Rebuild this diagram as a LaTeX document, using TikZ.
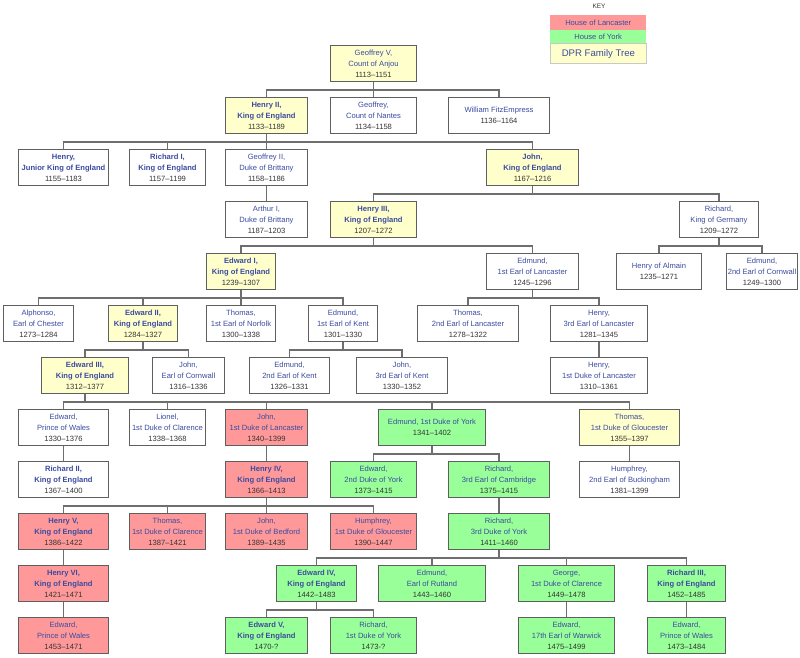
\documentclass[tikz,border=0pt]{standalone}
\usepackage{fontspec}
\setmainfont{Liberation Sans}
\definecolor{yel}{HTML}{FFFFCC}
\definecolor{lanc}{HTML}{FF9999}
\definecolor{york}{HTML}{99FF99}
\definecolor{nameblue}{HTML}{3B4BA0}
\definecolor{dategray}{HTML}{333333}
\definecolor{boxline}{HTML}{5F5F5F}
\definecolor{connline}{HTML}{6E6E6E}
\definecolor{keyline}{HTML}{C8C8C8}
\newcommand{\nm}[1]{\textcolor{nameblue}{#1}}
\newcommand{\bnm}[1]{\textcolor{nameblue}{\textbf{#1}}}
\newcommand{\dt}[1]{\textcolor{dategray}{#1}}
\tikzset{
  fam/.style={draw=boxline, line width=1pt, rectangle, anchor=north west,
    minimum height=36pt, inner sep=0pt, align=center,
    font=\fontsize{7.6}{11}\selectfont, fill=white},
  yb/.style={fill=yel}, lb/.style={fill=lanc}, gb/.style={fill=york},
  wd/.style={minimum width=#1 pt},
  conn/.style={draw=connline, line width=1.4pt},
  keybox/.style={anchor=north west, inner sep=0pt, minimum width=96pt, align=center},
}
\begin{document}
\begin{tikzpicture}[x=1pt, y=-1pt]
\useasboundingbox (0,0) rectangle (800,658);
% key
\node[font=\fontsize{6.5}{8}\selectfont, text=dategray] (keyt) at (599,6) {KEY};
\node[keybox, fill=lanc, minimum height=14.5pt, font=\fontsize{7.6}{9}\selectfont] (kl) at (550,15) {\nm{House of Lancaster}};
\node[keybox, fill=york, minimum height=14pt, font=\fontsize{7.6}{9}\selectfont] (ky) at (550,29.5) {\nm{House of York}};
\node[keybox, fill=yel, draw=keyline, line width=0.8pt, minimum height=19.5pt, font=\fontsize{9.6}{11}\selectfont] (kd) at (550,43.5) {\nm{DPR Family Tree}};
% row 0
\node[fam, yb, wd=86] (g5) at (330,45) {\nm{Geoffrey V,}\\\nm{Count of Anjou}\\\dt{1113–1151}};
% row 1
\node[fam, yb, wd=82] (h2) at (225,97) {\bnm{Henry II,}\\\bnm{King of England}\\\dt{1133–1189}};
\node[fam, wd=86] (gn) at (330,97) {\nm{Geoffrey,}\\\nm{Count of Nantes}\\\dt{1134–1158}};
\node[fam, wd=101] (wf) at (448,97) {\nm{William FitzEmpress}\\\dt{1136–1164}};
% row 2
\node[fam, wd=90] (hy) at (18,149) {\bnm{Henry,}\\\bnm{Junior King of England}\\\dt{1155–1183}};
\node[fam, wd=76] (ri) at (129,149) {\bnm{Richard I,}\\\bnm{King of England}\\\dt{1157–1199}};
\node[fam, wd=82] (g2) at (225,149) {\nm{Geoffrey II,}\\\nm{Duke of Brittany}\\\dt{1158–1186}};
\node[fam, yb, wd=92] (jn) at (486,149) {\bnm{John,}\\\bnm{King of England}\\\dt{1167–1216}};
% row 3
\node[fam, wd=82] (ar) at (225,201) {\nm{Arthur I,}\\\nm{Duke of Brittany}\\\dt{1187–1203}};
\node[fam, yb, wd=86] (h3) at (330,201) {\bnm{Henry III,}\\\bnm{King of England}\\\dt{1207–1272}};
\node[fam, wd=79] (rg) at (679,201) {\nm{Richard,}\\\nm{King of Germany}\\\dt{1209–1272}};
% row 4
\node[fam, yb, wd=69] (e1) at (206,253) {\bnm{Edward I,}\\\bnm{King of England}\\\dt{1239–1307}};
\node[fam, wd=92] (el) at (486,253) {\nm{Edmund,}\\\nm{1st Earl of Lancaster}\\\dt{1245–1296}};
\node[fam, wd=85] (ha) at (616,253) {\nm{Henry of Almain}\\\dt{1235–1271}};
\node[fam, wd=71] (ec) at (726,253) {\nm{Edmund,}\\\nm{2nd Earl of Cornwall}\\\dt{1249–1300}};
% row 5
\node[fam, wd=70] (al) at (3,305) {\nm{Alphonso,}\\\nm{Earl of Chester}\\\dt{1273–1284}};
\node[fam, yb, wd=69] (e2) at (108,305) {\bnm{Edward II,}\\\bnm{King of England}\\\dt{1284–1327}};
\node[fam, wd=69] (tn) at (206,305) {\nm{Thomas,}\\\nm{1st Earl of Norfolk}\\\dt{1300–1338}};
\node[fam, wd=69] (ek) at (308,305) {\nm{Edmund,}\\\nm{1st Earl of Kent}\\\dt{1301–1330}};
\node[fam, wd=101] (tl) at (417,305) {\nm{Thomas,}\\\nm{2nd Earl of Lancaster}\\\dt{1278–1322}};
\node[fam, wd=97] (hl) at (550,305) {\nm{Henry,}\\\nm{3rd Earl of Lancaster}\\\dt{1281–1345}};
% row 6
\node[fam, yb, wd=87] (e3) at (41,357) {\bnm{Edward III,}\\\bnm{King of England}\\\dt{1312–1377}};
\node[fam, wd=72] (jc) at (152,357) {\nm{John,}\\\nm{Earl of Cornwall}\\\dt{1316–1336}};
\node[fam, wd=80] (ekt) at (249,357) {\nm{Edmund,}\\\nm{2nd Earl of Kent}\\\dt{1326–1331}};
\node[fam, wd=91] (jk) at (356,357) {\nm{John,}\\\nm{3rd Earl of Kent}\\\dt{1330–1352}};
\node[fam, wd=97] (hd) at (550,357) {\nm{Henry,}\\\nm{1st Duke of Lancaster}\\\dt{1310–1361}};
% row 7
\node[fam, wd=90] (ebp) at (18,409) {\nm{Edward,}\\\nm{Prince of Wales}\\\dt{1330–1376}};
\node[fam, wd=76] (lc) at (129,409) {\nm{Lionel,}\\\nm{1st Duke of Clarence}\\\dt{1338–1368}};
\node[fam, lb, wd=82] (jg) at (225,409) {\nm{John,}\\\nm{1st Duke of Lancaster}\\\dt{1340–1399}};
\node[fam, gb, wd=107] (ey) at (378,409) {\nm{Edmund, 1st Duke of York}\\\dt{1341–1402}};
\node[fam, yb, wd=100] (tg) at (579,409) {\nm{Thomas,}\\\nm{1st Duke of Gloucester}\\\dt{1355–1397}};
% row 8
\node[fam, wd=90] (rii) at (18,461) {\bnm{Richard II,}\\\bnm{King of England}\\\dt{1367–1400}};
\node[fam, lb, wd=82] (h4) at (225,461) {\bnm{Henry IV,}\\\bnm{King of England}\\\dt{1366–1413}};
\node[fam, gb, wd=86] (eyy) at (330,461) {\nm{Edward,}\\\nm{2nd Duke of York}\\\dt{1373–1415}};
\node[fam, gb, wd=101] (rc) at (448,461) {\nm{Richard,}\\\nm{3rd Earl of Cambridge}\\\dt{1375–1415}};
\node[fam, wd=100] (hb) at (579,461) {\nm{Humphrey,}\\\nm{2nd Earl of Buckingham}\\\dt{1381–1399}};
% row 9
\node[fam, lb, wd=90] (h5) at (18,513) {\bnm{Henry V,}\\\bnm{King of England}\\\dt{1386–1422}};
\node[fam, lb, wd=76] (tc) at (129,513) {\nm{Thomas,}\\\nm{1st Duke of Clarence}\\\dt{1387–1421}};
\node[fam, lb, wd=82] (jb) at (225,513) {\nm{John,}\\\nm{1st Duke of Bedford}\\\dt{1389–1435}};
\node[fam, lb, wd=86] (hg) at (330,513) {\nm{Humphrey,}\\\nm{1st Duke of Gloucester}\\\dt{1390–1447}};
\node[fam, gb, wd=101] (ry) at (448,513) {\nm{Richard,}\\\nm{3rd Duke of York}\\\dt{1411–1460}};
% row 10
\node[fam, lb, wd=90] (h6) at (18,565) {\bnm{Henry VI,}\\\bnm{King of England}\\\dt{1421–1471}};
\node[fam, gb, wd=80] (e4) at (276,565) {\bnm{Edward IV,}\\\bnm{King of England}\\\dt{1442–1483}};
\node[fam, gb, wd=107] (er) at (378,565) {\nm{Edmund,}\\\nm{Earl of Rutland}\\\dt{1443–1460}};
\node[fam, gb, wd=96] (gc) at (518,565) {\nm{George,}\\\nm{1st Duke of Clarence}\\\dt{1449–1478}};
\node[fam, gb, wd=78] (r3) at (647,565) {\bnm{Richard III,}\\\bnm{King of England}\\\dt{1452–1485}};
% row 11
\node[fam, lb, wd=90] (ewl) at (18,617) {\nm{Edward,}\\\nm{Prince of Wales}\\\dt{1453–1471}};
\node[fam, gb, wd=82] (e5) at (225,617) {\bnm{Edward V,}\\\bnm{King of England}\\\dt{1470-?}};
\node[fam, gb, wd=86] (rdy) at (330,617) {\nm{Richard,}\\\nm{1st Duke of York}\\\dt{1473-?}};
\node[fam, gb, wd=96] (ew) at (518,617) {\nm{Edward,}\\\nm{17th Earl of Warwick}\\\dt{1475–1499}};
\node[fam, gb, wd=78] (ewy) at (647,617) {\nm{Edward,}\\\nm{Prince of Wales}\\\dt{1473–1484}};
% connectors with bars
\foreach \p/\cs in {g5/{h2,gn,wf}, h2/{hy,ri,g2,jn}, jn/{h3,rg}, h3/{e1,el}, rg/{ha,ec},
  e1/{al,e2,tn,ek}, el/{tl,hl}, e2/{e3,jc}, ek/{ekt,jk}, e3/{ebp,lc,jg,ey,tg},
  ey/{eyy,rc}, h4/{h5,tc,jb,hg}, ry/{e4,er,gc,r3}, e4/{e5,rdy}}
  \foreach \c in \cs
    \draw[conn] (\p.south) -- ++(0,8) -| (\c.north);
% direct connectors
\foreach \p/\c in {g2/ar, hl/hd, ebp/rii, jg/h4, tg/hb, rc/ry, h5/h6, h6/ewl, gc/ew, r3/ewy}
  \draw[conn] (\p.south) -- (\c.north);
\end{tikzpicture}
\end{document}
